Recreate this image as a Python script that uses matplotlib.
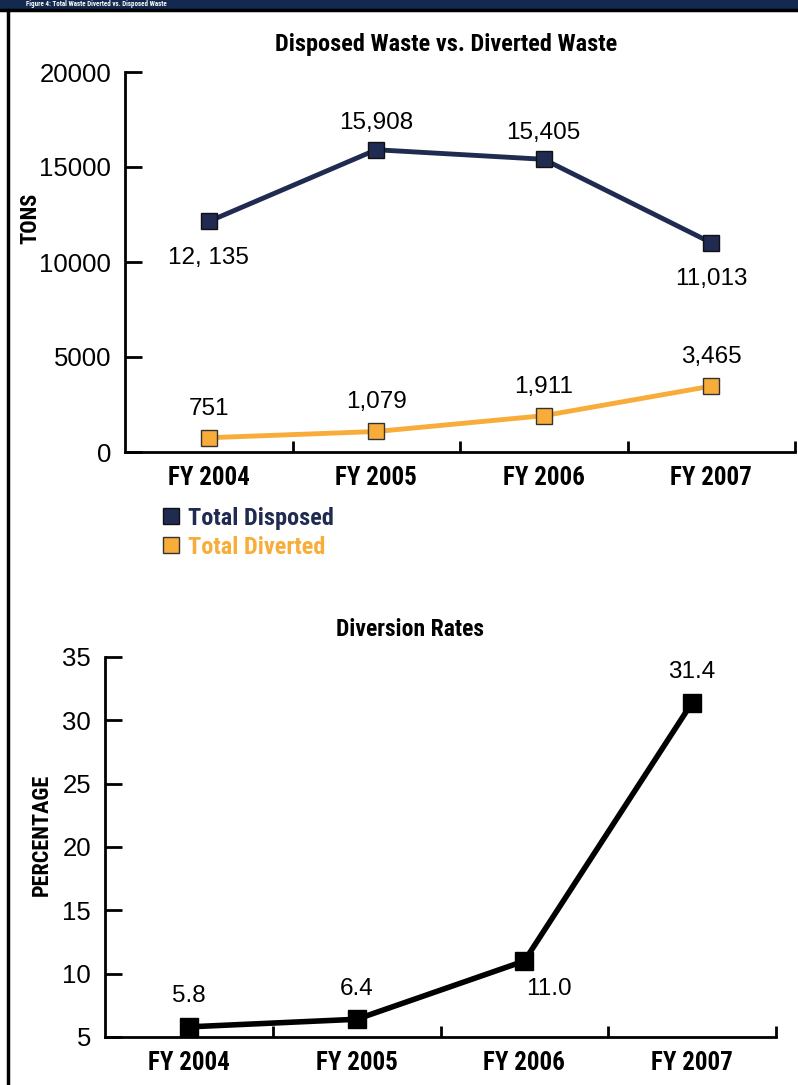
import matplotlib
matplotlib.use("Agg")
import matplotlib.pyplot as plt
from matplotlib.lines import Line2D
from matplotlib.patches import Rectangle

years = ["FY 2004", "FY 2005", "FY 2006", "FY 2007"]
disposed = [12135, 15908, 15405, 11013]
diverted = [751, 1079, 1911, 3465]
disposed_labels = ["12, 135", "15,908", "15,405", "11,013"]
diverted_labels = ["751", "1,079", "1,911", "3,465"]
rates = [5.8, 6.4, 11.0, 31.4]
rate_labels = ["5.8", "6.4", "11.0", "31.4"]

NAVY = "#1f2b50"
ORANGE = "#f8ad3a"
NARROW = ["Roboto Condensed", "Roboto", "DejaVu Sans"]
REG = ["Liberation Sans", "DejaVu Sans"]

fig = plt.figure(figsize=(7.98, 10.85), dpi=100)
W, H = 798, 1085


def fx(px):
    return px / W


def fy(py):
    return 1 - py / H


# header bar and left border
fig.patches.append(Rectangle((0, fy(9)), 1, 9 / H, transform=fig.transFigure,
                             color="#13294f", zorder=0))
fig.lines.append(Line2D([0, 1], [fy(10), fy(10)], transform=fig.transFigure,
                        color="black", lw=2.5))
fig.lines.append(Line2D([fx(8), fx(8)], [0, fy(10)], transform=fig.transFigure,
                        color="black", lw=2.5))
fig.text(fx(26), fy(4.5), "Figure 4: Total Waste Diverted vs. Disposed Waste",
         color="white", fontsize=5, fontweight="bold", family=NARROW, va="center")

x = [0.5, 1.5, 2.5, 3.5]


def style_axes(ax):
    for s in ["top", "right"]:
        ax.spines[s].set_visible(False)
    for s in ["left", "bottom"]:
        ax.spines[s].set_linewidth(2)
    ax.set_xlim(0, 4)
    ax.set_xticks(x)
    ax.set_xticklabels(years, family=NARROW, fontweight="bold", fontsize=18)
    ax.set_xticks([1, 2, 3, 4], minor=True)
    ax.tick_params(axis="x", which="major", length=0, pad=10)
    ax.tick_params(axis="x", which="minor", direction="in", length=8, width=2)
    ax.tick_params(axis="y", direction="in", length=12, width=2, pad=10, labelsize=18.5)
    for t in ax.get_yticklabels():
        t.set_family(REG)


# top chart
ax1 = fig.add_axes([fx(125), fy(452), fx(670), 380 / H])
ax1.plot(x, disposed, color=NAVY, lw=3.5, marker="s", ms=12,
         mfc=NAVY, mec="#111111", mew=1)
ax1.plot(x, diverted, color=ORANGE, lw=3.5, marker="s", ms=12,
         mfc=ORANGE, mec="#333333", mew=1)
ax1.set_ylim(0, 20000)
ax1.set_yticks([0, 5000, 10000, 15000, 20000])
style_axes(ax1)
fig.text(fx(446), fy(44), "Disposed Waste vs. Diverted Waste", family=NARROW,
         fontweight="bold", fontsize=17.5, ha="center", va="center")

offsets_disp = [-26, 19, 19, -26]
for xi, yi, lab, off in zip(x, disposed, disposed_labels, offsets_disp):
    ax1.annotate(lab, (xi, yi), xytext=(0, off), textcoords="offset points",
                 ha="center", va="center", fontsize=17.5, family=REG)
for xi, yi, lab in zip(x, diverted, diverted_labels):
    ax1.annotate(lab, (xi, yi), xytext=(0, 21), textcoords="offset points",
                 ha="center", va="center", fontsize=17.5, family=REG)

fig.text(fx(30), fy(218), "TONS", rotation=90, ha="center", va="center",
         family=NARROW, fontweight="bold", fontsize=16)

handles = [
    Line2D([], [], ls="none", marker="s", ms=12, mfc=NAVY, mec="#111111", mew=1),
    Line2D([], [], ls="none", marker="s", ms=12, mfc=ORANGE, mec="#333333", mew=1),
]
leg = fig.legend(handles, ["Total Disposed", "Total Diverted"],
                 loc="upper left", bbox_to_anchor=(fx(139), fy(485)),
                 frameon=False, handlelength=0.8, handletextpad=0.3,
                 labelspacing=0.25, prop={"family": NARROW, "weight": "bold", "size": 17.5})
leg.get_texts()[0].set_color(NAVY)
leg.get_texts()[1].set_color(ORANGE)

# bottom chart
ax2 = fig.add_axes([fx(105), fy(1037), fx(671), 380 / H])
ax2.plot(x, rates, color="black", lw=4, marker="s", ms=13, mfc="black", mec="black")
ax2.set_ylim(5, 35)
ax2.set_yticks([5, 10, 15, 20, 25, 30, 35])
style_axes(ax2)
fig.text(fx(410), fy(630), "Diversion Rates", family=NARROW, fontweight="bold",
         fontsize=17, ha="center", va="center")

rate_offsets = [(0, 22), (0, 22), (18, -20), (0, 22)]
for xi, yi, lab, off in zip(x, rates, rate_labels, rate_offsets):
    ax2.annotate(lab, (xi, yi), xytext=off, textcoords="offset points",
                 ha="center", va="center", fontsize=17.5, family=REG)

fig.text(fx(42), fy(835), "PERCENTAGE", rotation=90, ha="center", va="center",
         family=NARROW, fontweight="bold", fontsize=16)

fig.savefig("out.png", dpi=100)
